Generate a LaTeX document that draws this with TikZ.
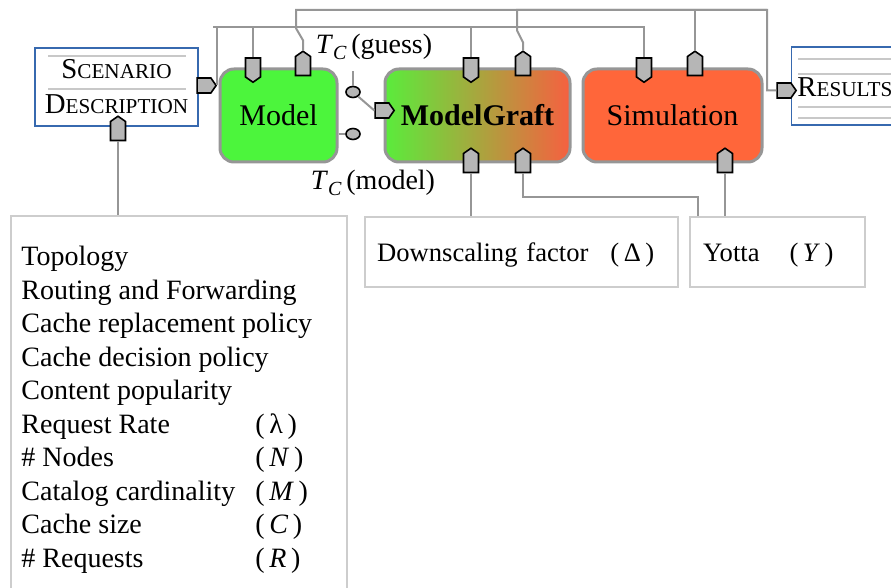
\documentclass[tikz,border=0pt]{standalone}
\usepackage{fontspec}
\setmainfont{Liberation Serif}
\usepackage{tikz}
\usetikzlibrary{calc,positioning}
\usetikzlibrary{shapes.symbols,shapes.geometric}

\definecolor{modelgreen}{RGB}{76,245,60}
\definecolor{mggreen}{RGB}{90,236,60}
\definecolor{mgred}{RGB}{246,96,64}
\definecolor{simred}{RGB}{255,102,58}
\definecolor{boxgray}{RGB}{150,150,150}
\definecolor{wiregray}{RGB}{150,150,150}
\definecolor{portgray}{RGB}{182,182,182}
\definecolor{parborder}{RGB}{205,205,205}
\definecolor{rulegray}{RGB}{200,200,200}
\definecolor{scenblue}{RGB}{55,105,175}

\newcommand{\fakesc}[1]{{\fontsize{10.6}{12}\selectfont #1}}
\newcommand{\tcsym}{\textit{T}\raisebox{-3pt}{\fontsize{10}{10}\selectfont\textit{C}}}
\newcommand{\parrow}[2]{\makebox[117pt][l]{#1}(\,#2\,)}

\tikzset{
  block/.style={draw=boxgray, line width=1.5pt, rounded corners=7pt,
    minimum height=46.5pt, font=\fontsize{15}{18}\selectfont},
  port/.style={signal, draw=black, fill=portgray, line width=0.8pt,
    inner sep=0pt, signal pointer angle=110},
  portdown/.style={port, signal to=south, minimum width=7.5pt, minimum height=9.5pt},
  portup/.style={port, signal to=north, minimum width=7.5pt, minimum height=9.5pt},
  portright/.style={port, signal to=east, minimum width=9.5pt, minimum height=7.5pt},
  wire/.style={draw=wiregray, line width=1pt},
  tcdot/.style={ellipse, draw=black, fill=portgray, line width=0.8pt,
    inner sep=0pt, minimum width=7pt, minimum height=5.5pt},
  parbox/.style={draw=parborder, line width=1.2pt, inner sep=0pt, align=left,
    font=\fontsize{14}{16.75}\selectfont},
  factorbox/.style={parbox, anchor=north west, minimum height=35pt,
    text height=11pt, text depth=1.5pt, font=\fontsize{13.3}{16}\selectfont},
  docbox/.style={draw=scenblue, line width=0.6pt, fill=white, inner sep=0pt}
}

\begin{document}
\begin{tikzpicture}[x=0.5pt,y=-0.5pt]
  \useasboundingbox (0,0) rectangle (891,588);

  % documents
  \node[docbox, minimum width=81.5pt, minimum height=39pt, align=center,
    font=\fontsize{14.4}{17.5}\selectfont] (scen) at (116.5,87)
    {S\fakesc{CENARIO}\\D\fakesc{ESCRIPTION}};
  \draw[rulegray, line width=0.6pt] (48,56) -- (186,56);
  \draw[rulegray, line width=0.6pt] (48,89) -- (186,89);

  \node[docbox, minimum width=100pt, minimum height=39pt, anchor=west] (res) at (791,86) {};
  \foreach \ry in {59,74,107,118}
    \draw[rulegray, line width=0.6pt] (798,\ry) -- (891,\ry);
  \node[anchor=base west, inner sep=0pt, font=\fontsize{14.4}{17.5}\selectfont]
    (restxt) at (797,97) {R\fakesc{ESULTS}};

  % blocks
  \node[block, fill=modelgreen, minimum width=58.5pt] (mdl) at (278.5,115.5) {Model};
  \node[block, left color=mggreen, right color=mgred, minimum width=92.5pt,
    font=\fontsize{15}{18}\selectfont\bfseries] (mg) at (477.5,115.5) {ModelGraft};
  \node[block, fill=simred, minimum width=89.5pt] (sim) at (672.5,115.5) {Simulation};

  % parameters
  \node[parbox, anchor=north west, minimum width=168pt, minimum height=200pt] (params) at (10,215) {};
  \node[anchor=north west, inner sep=0pt, font=\fontsize{14}{16.75}\selectfont] (plist) at (21,242) {%
    \begin{tabular}{@{}l@{}}
      Topology \\
      Routing and Forwarding \\
      Cache replacement policy \\
      Cache decision policy \\
      Content popularity \\
      \parrow{Request Rate}{λ} \\
      \parrow{\# Nodes}{\textit{N}} \\
      \parrow{Catalog cardinality}{\textit{M}} \\
      \parrow{Cache size}{\textit{C}} \\
      \parrow{\# Requests}{\textit{R}} \\
    \end{tabular}};
  \node[factorbox, text width=144.5pt, inner xsep=6pt] (down) at (364,216)
    {Downscaling factor\hspace{11pt}(\,Δ\,)};
  \node[factorbox, text width=74.5pt, inner xsep=6.5pt] (yotta) at (689,216)
    {Yotta\hspace{15pt}(\,\textit{Y}\,)};

  % ports
  \node[portright] (scout) at (204,85.5) {};
  \node[portup] (scin) at (118,131) {};
  \node[portdown] (mdlin) at (253,67.5) {};
  \node[portup] (mdlout) at (303,66) {};
  \node[portdown] (mgin) at (471,67.5) {};
  \node[portup] (mgout) at (523,66) {};
  \node[portright] (mgleft) at (382,110.5) {};
  \node[portup] (mgdown) at (471,163) {};
  \node[portup] (mgyotta) at (523,163) {};
  \node[portdown] (simin) at (644,67.5) {};
  \node[portup] (simout) at (695,66) {};
  \node[portup] (simdown) at (725,163) {};
  \node[portright] (resin) at (784,90.5) {};

  % T_C
  \node[tcdot] (guess) at (353,92) {};
  \node[tcdot] (tcm) at (353,134) {};
  \coordinate (guesstip) at (353,71);
  \node[font=\fontsize{14}{16}\selectfont] (tcg) at (374,47) {\tcsym\,(guess)};
  \node[font=\fontsize{14}{16}\selectfont] (tcmlab) at (373,183) {\tcsym\,(model)};

  % wires
  \coordinate (inbus) at (213,27);
  \coordinate (outbus) at (767,10);
  \coordinate (yottabend) at (698,197);
  \draw[wire] (scout.east) |- (inbus) -| (simin.north);
  \draw[wire] (mdlin.north) -- (mdlin.north |- inbus);
  \draw[wire] (mgin.north) -- (mgin.north |- inbus);
  \draw[wire] (mdlout.north) -- ++(0,-10) -- ++(-7,-12) |- (outbus) |- (resin.west);
  \draw[wire] (mgout.north) -- ++(0,-8) -- ++(-6,-12) |- (outbus);
  \draw[wire] (simout.north) |- (outbus);
  \draw[wire] (guess) -- (guesstip);
  \draw[wire] (guess) -- (mgleft.west);
  \draw[wire] (mdl.east |- tcm) -- (tcm);
  \draw[wire] (scin.south) -- (scin.south |- params.north);
  \draw[wire] (mgdown.south) -- (mgdown.south |- down.north);
  \draw[wire] (mgyotta.south) |- (yottabend) -- (yottabend |- yotta.north);
  \draw[wire] (simdown.south) -- (simdown.south |- yotta.north);
\end{tikzpicture}
\end{document}
